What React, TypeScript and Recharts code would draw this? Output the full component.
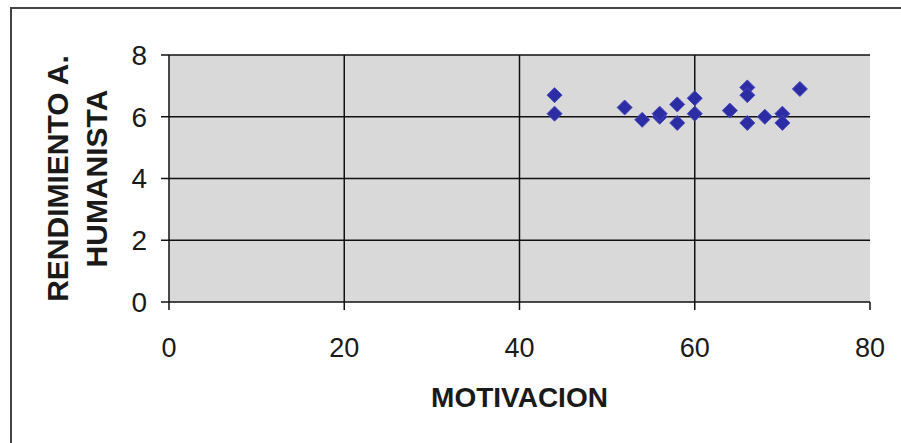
import React from 'react';
import { ScatterChart, Scatter, XAxis, YAxis, CartesianGrid } from 'recharts';

const motivacion = [44, 44, 52, 54, 56, 56, 58, 58, 60, 60, 64, 66, 66, 66, 68, 70, 70, 72];
const rendimiento = [6.7, 6.1, 6.3, 5.9, 6.0, 6.1, 6.4, 5.8, 6.6, 6.1, 6.2, 6.95, 6.7, 5.8, 6.0, 6.1, 5.8, 6.9];
const xTicks = [0, 20, 40, 60, 80];
const yTicks = [0, 2, 4, 6, 8];

const points = motivacion.map((m, i) => ({ x: m, y: rendimiento[i] }));

const FONT = '"Liberation Sans", Arial, sans-serif';

// rombo como en Excel
const Diamond = (props: any) => {
  const { cx, cy } = props;
  const r = 7.5;
  return (
    <polygon
      points={`${cx},${cy - r} ${cx + r},${cy} ${cx},${cy + r} ${cx - r},${cy}`}
      fill="#2c2ca4"
      stroke="#4848ba"
      strokeWidth={1}
    />
  );
};

const YTitle = (props: any) => {
  const { viewBox } = props;
  const cy = viewBox.y + viewBox.height / 2;
  return (
    <g>
      <text
        x={57}
        y={cy}
        transform={`rotate(-90, 57, ${cy})`}
        textAnchor="middle"
        dominantBaseline="central"
        fontFamily={FONT}
        fontWeight="bold"
        fontSize={30}
        fill="#1a1a1a"
      >
        RENDIMIENTO A.
      </text>
      <text
        x={96}
        y={cy}
        transform={`rotate(-90, 96, ${cy})`}
        textAnchor="middle"
        dominantBaseline="central"
        fontFamily={FONT}
        fontWeight="bold"
        fontSize={30}
        fill="#1a1a1a"
      >
        HUMANISTA
      </text>
    </g>
  );
};

const XTitle = (props: any) => {
  const { viewBox } = props;
  const cx = viewBox.x + viewBox.width / 2;
  return (
    <text
      x={cx}
      y={397}
      textAnchor="middle"
      dominantBaseline="central"
      fontFamily={FONT}
      fontWeight="bold"
      fontSize={28}
      fill="#1a1a1a"
    >
      MOTIVACION
    </text>
  );
};

const App: React.FC = () => {
  return (
    <div style={{ position: 'absolute', left: 0, top: 0, width: 901, height: 443, background: '#fff', overflow: 'hidden' }}>
      <div
        style={{
          position: 'absolute',
          left: 10,
          top: 7,
          width: 920,
          height: 460,
          borderLeft: '2px solid #444',
          borderTop: '2px solid #444',
        }}
      />
      <div style={{ position: 'absolute', left: 0, top: 0 }}>
        <ScatterChart width={901} height={443} margin={{ top: 55, right: 31, bottom: 81, left: 0 }}>
          <CartesianGrid
            fill="#d9d9d9"
            stroke="#111"
            strokeWidth={1.5}
            horizontalValues={[2, 4, 6, 8]}
            verticalValues={[20, 40, 60]}
          />
          <XAxis
            type="number"
            dataKey="x"
            domain={[0, 80]}
            ticks={xTicks}
            height={60}
            tickSize={8}
            tickMargin={28}
            axisLine={{ stroke: '#111', strokeWidth: 1.5 }}
            tickLine={{ stroke: '#111', strokeWidth: 1.5 }}
            tick={{ fontFamily: FONT, fontSize: 27, fill: '#1a1a1a' }}
            label={<XTitle />}
          />
          <YAxis
            type="number"
            dataKey="y"
            domain={[0, 8]}
            ticks={yTicks}
            width={169}
            tickSize={8}
            tickMargin={14}
            axisLine={{ stroke: '#111', strokeWidth: 1.5 }}
            tickLine={{ stroke: '#111', strokeWidth: 1.5 }}
            tick={{ fontFamily: FONT, fontSize: 28, fill: '#1a1a1a' }}
            label={<YTitle />}
          />
          <Scatter data={points} shape={<Diamond />} isAnimationActive={false} />
        </ScatterChart>
      </div>
    </div>
  );
};

export default App;
